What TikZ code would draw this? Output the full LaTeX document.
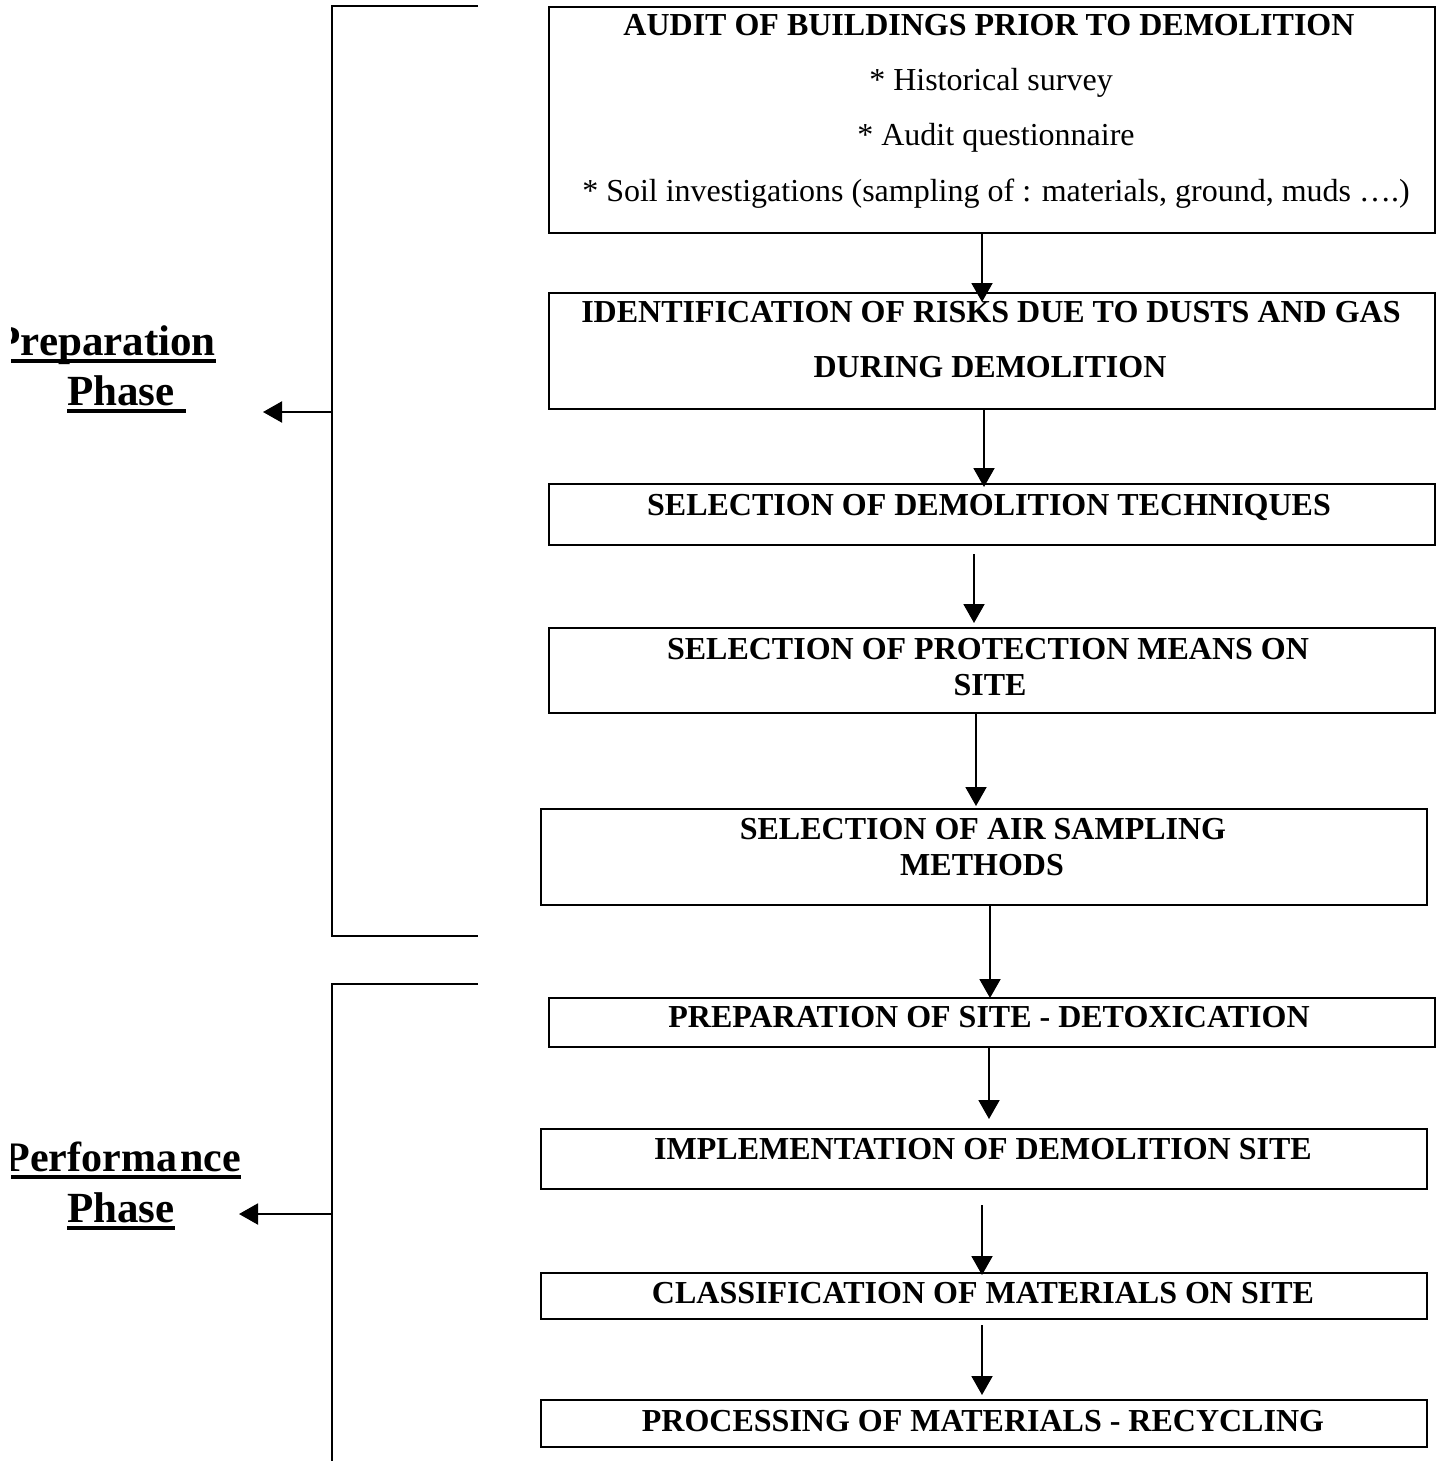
\documentclass[tikz,border=0pt]{standalone}
\usepackage{fontspec}
\setmainfont{Liberation Serif}
\usetikzlibrary{arrows.meta}
\begin{document}
\begin{tikzpicture}[x=1pt,y=-1pt,
  box/.style={draw, line width=2pt, minimum width=886pt, inner sep=0pt, anchor=north west},
  tb/.style={font=\fontsize{32}{38}\selectfont\bfseries, anchor=base, inner sep=0pt},
  tr/.style={font=\fontsize{32}{38}\selectfont, anchor=base, inner sep=0pt},
  lbl/.style={font=\fontsize{43}{50}\selectfont\bfseries, inner sep=0pt},
  ul/.style={line width=4.5pt},
  arr/.style={line width=2pt, -{Triangle[width=21pt,length=19pt]}},
  brk/.style={line width=2pt}]
\fill[white] (0,0) rectangle (1440,1461);
\useasboundingbox (0,0) rectangle (1440,1461);

% boxes
\node[box, minimum height=226pt] (b1) at (548,6) {};
\node[box, minimum height=116pt] (b2) at (548,292) {};
\node[box, minimum height=61pt] (b3) at (548,483) {};
\node[box, minimum height=85pt] (b4) at (548,627) {};
\node[box, minimum height=96pt] (b5) at (540,808) {};
\node[box, minimum height=49pt] (b6) at (548,997) {};
\node[box, minimum height=60pt] (b7) at (540,1128) {};
\node[box, minimum height=46pt] (b8) at (540,1272) {};
\node[box, minimum height=47pt] (b9) at (540,1399) {};

% texts
\node[tb] (t1a) at (989,36) {AUDIT OF BUILDINGS PRIOR TO DEMOLITION};
\node[tr] (t1b) at (991,91) {* Historical survey};
\node[tr] (t1c) at (996,146) {* Audit questionnaire};
\node[tr] (t1d) at (996,201) {* Soil investigations (sampling of : materials, ground, muds ….)};
\node[tb] (t2a) at (991,322) {IDENTIFICATION OF RISKS DUE TO DUSTS AND GAS};
\node[tb] (t2b) at (990,377) {DURING DEMOLITION};
\node[tb] (t3) at (989,515) {SELECTION OF DEMOLITION TECHNIQUES};
\node[tb] (t4a) at (988,659) {SELECTION OF PROTECTION MEANS ON};
\node[tb] (t4b) at (990,695) {SITE};
\node[tb] (t5a) at (983,839) {SELECTION OF AIR SAMPLING};
\node[tb] (t5b) at (982,875) {METHODS};
\node[tb] (t6) at (989,1027) {PREPARATION OF SITE - DETOXICATION};
\node[tb] (t7) at (983,1159) {IMPLEMENTATION OF DEMOLITION SITE};
\node[tb] (t8) at (983,1303) {CLASSIFICATION OF MATERIALS ON SITE};
\node[tb] (t9) at (983,1431) {PROCESSING OF MATERIALS - RECYCLING};

% arrows between boxes
\draw[arr] ([xshift=-10pt]b1.south) -- ([xshift=-10pt,yshift=-10pt]b2.north);
\draw[arr] ([xshift=-8pt]b2.south) -- ([xshift=-8pt,yshift=-4pt]b3.north);
\draw[arr] ([xshift=-18pt,yshift=-8pt]b3.south) -- ([xshift=-18pt,yshift=4pt]b4.north);
\draw[arr] ([xshift=-16pt]b4.south) -- ([xshift=-8pt,yshift=2pt]b5.north);
\draw[arr] ([xshift=6pt]b5.south) -- ([xshift=-2pt,yshift=-1pt]b6.north);
\draw[arr] ([xshift=-3pt]b6.south) -- ([xshift=5pt,yshift=9pt]b7.north);
\draw[arr] ([xshift=-2pt,yshift=-15pt]b7.south) -- ([xshift=-2pt,yshift=-3pt]b8.north);
\draw[arr] ([xshift=-2pt,yshift=-5pt]b8.south) -- ([xshift=-2pt,yshift=4pt]b9.north);

% brackets
\coordinate (k1a) at (478,6);
\coordinate (k1b) at (332,6);
\coordinate (k1c) at (332,936);
\coordinate (k1d) at (478,936);
\coordinate (k1m) at (332,412);
\coordinate (k1t) at (263,412);
\draw[brk] (k1a) -- (k1b) -- (k1c) -- (k1d);
\draw[arr] (k1m) -- (k1t);

\coordinate (k2a) at (478,984);
\coordinate (k2b) at (332,984);
\coordinate (k2c) at (332,1461);
\coordinate (k2m) at (332,1214);
\coordinate (k2t) at (239,1214);
\draw[brk] (k2a) -- (k2b) -- (k2c);
\draw[arr] (k2m) -- (k2t);

% phase labels
\begin{scope}
\clip (11,0) rectangle (330,1461);
\node[lbl, anchor=base east] (prep) at (216,355) {Preparation};
\node[lbl, anchor=base west] (ph1) at (67,405) {Phase};
\draw[ul] ([yshift=-6pt]prep.base west) -- ([yshift=-6pt]prep.base east);
\draw[ul] ([yshift=-6pt]ph1.base west) -- ([xshift=11pt,yshift=-6pt]ph1.base east);
\node[lbl, font=\fontsize{42}{50}\selectfont\bfseries, anchor=base east] (perf) at (241,1171) {Performa\hspace{3pt}nce};
\node[lbl, anchor=base west] (ph2) at (67,1222) {Phase};
\draw[ul] ([yshift=-6pt]perf.base west) -- ([yshift=-6pt]perf.base east);
\draw[ul] ([yshift=-6pt]ph2.base west) -- ([yshift=-6pt]ph2.base east);
\end{scope}
\end{tikzpicture}
\end{document}
